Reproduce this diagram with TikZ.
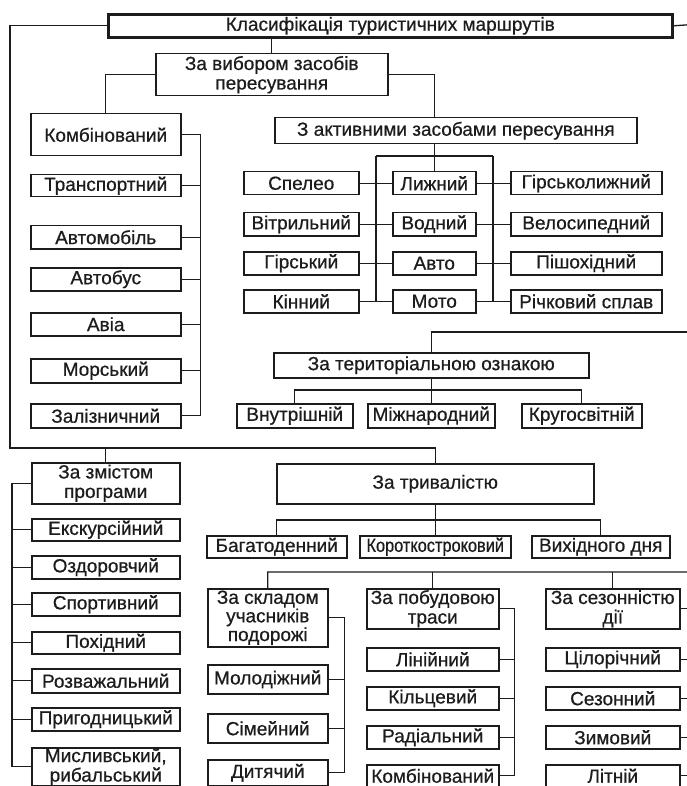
\documentclass[tikz,border=0pt]{standalone}
\usepackage{fontspec}
\setmainfont[FakeBold=0.6]{Liberation Sans}
\usepackage{xcolor}
\usepackage{tikz}
\usetikzlibrary{positioning, calc}
\definecolor{ink}{HTML}{1c1c1c}

\begin{document}
\begin{tikzpicture}[x=1pt, y=-1pt,
    every node/.style={font=\fontsize{19}{19.5}\selectfont, text=ink},
    catbox/.style={
        rectangle, draw=ink, line width=1.5pt,
        fill=white, inner sep=0pt, align=center,
        anchor=north west,
    },
    rootbox/.style={catbox, line width=2.6pt},
    link/.style={draw=ink, line width=1.3pt},
]
\useasboundingbox (0,0) rectangle (686,786);

% ── Root ───────────────────────────────────────────────────────────────
\node[rootbox, minimum width=564pt, minimum height=23pt] (root) at (107,13) {Класифікація туристичних маршрутів};

% ── By means of travel ─────────────────────────────────────────────────
\node[catbox, minimum width=232pt, minimum height=42pt] (means) at (155,53) {За вибором засобів\\пересування};
\node[catbox, minimum width=150pt, minimum height=42pt] (combined) at (30,113) {Комбінований};
\node[catbox, minimum width=150pt, minimum height=22pt] (transport) at (30,174) {Транспортний};
\node[catbox, minimum width=150pt, minimum height=23pt] (car) at (30,225) {Автомобіль};
\node[catbox, minimum width=150pt, minimum height=23pt] (bus) at (30,267) {Автобус};
\node[catbox, minimum width=150pt, minimum height=23pt] (air) at (30,312) {Авіа};
\node[catbox, minimum width=150pt, minimum height=24pt] (sea) at (30,358) {Морський};
\node[catbox, minimum width=150pt, minimum height=24pt] (rail) at (30,403) {Залізничний};

% ── Active means ───────────────────────────────────────────────────────
\node[catbox, minimum width=362pt, minimum height=26pt] (active) at (274,117) {З активними засобами пересування};
\node[catbox, minimum width=115pt, minimum height=23pt] (speleo) at (243,171) {Спелео};
\node[catbox, minimum width=83pt, minimum height=23pt] (ski) at (392,171) {Лижний};
\node[catbox, minimum width=151pt, minimum height=23pt] (alpski) at (510,171) {Гірськолижний};
\node[catbox, minimum width=115pt, minimum height=23pt] (sail) at (243,212) {Вітрильний};
\node[catbox, minimum width=83pt, minimum height=23pt] (water) at (392,212) {Водний};
\node[catbox, minimum width=151pt, minimum height=23pt] (bike) at (510,212) {Велосипедний};
\node[catbox, minimum width=115pt, minimum height=23pt] (mount) at (243,251) {Гірський};
\node[catbox, minimum width=83pt, minimum height=23pt] (auto) at (392,251) {Авто};
\node[catbox, minimum width=151pt, minimum height=23pt] (hike) at (510,251) {Пішохідний};
\node[catbox, minimum width=115pt, minimum height=23pt] (horse) at (243,289) {Кінний};
\node[catbox, minimum width=83pt, minimum height=23pt] (moto) at (392,289) {Мото};
\node[catbox, minimum width=151pt, minimum height=23pt] (river) at (510,289) {Річковий сплав};

% ── Territory ──────────────────────────────────────────────────────────
\node[catbox, minimum width=315pt, minimum height=25pt] (terr) at (273,352) {За територіальною ознакою};
\node[catbox, minimum width=116pt, minimum height=24pt] (domestic) at (236,403) {Внутрішній};
\node[catbox, minimum width=127pt, minimum height=24pt] (intl) at (367,403) {Міжнародний};
\node[catbox, minimum width=120pt, minimum height=24pt] (world) at (521,403) {Кругосвітній};

% ── Programme content ──────────────────────────────────────────────────
\node[catbox, minimum width=148pt, minimum height=41pt] (content) at (31,462) {За змістом\\програми};
\node[catbox, minimum width=148pt, minimum height=22pt] (excurs) at (31,518) {Екскурсійний};
\node[catbox, minimum width=148pt, minimum height=23pt] (health) at (31,555) {Оздоровчий};
\node[catbox, minimum width=148pt, minimum height=23pt] (sport) at (31,592) {Спортивний};
\node[catbox, minimum width=148pt, minimum height=22pt] (walk) at (31,631) {Похідний};
\node[catbox, minimum width=148pt, minimum height=24pt] (fun) at (31,668) {Розважальний};
\node[catbox, minimum width=148pt, minimum height=23pt] (advent) at (31,707) {Пригодницький};
\node[catbox, minimum width=148pt, minimum height=38pt] (hunt) at (31,747) {Мисливський,\\рибальський};

% ── Duration ───────────────────────────────────────────────────────────
\node[catbox, minimum width=317pt, minimum height=40pt] (duration) at (276,463) {За тривалістю};
\node[catbox, minimum width=140pt, minimum height=22pt] (multi) at (206,535) {Багатоденний};
\node[catbox, minimum width=151pt, minimum height=22pt, font=\fontsize{19}{19.5}\selectfont\addfontfeature{FakeStretch=0.86}] (short) at (359,535) {Короткостроковий};
\node[catbox, minimum width=138pt, minimum height=22pt] (weekend) at (531,535) {Вихідного дня};

% ── Members ────────────────────────────────────────────────────────────
\node[catbox, minimum width=120pt, minimum height=58pt, font=\fontsize{19}{17.5}\selectfont] (members) at (207,588) {За складом\\учасників\\подорожі};
\node[catbox, minimum width=120pt, minimum height=29pt] (youth) at (207,664) {Молодіжний};
\node[catbox, minimum width=120pt, minimum height=29pt] (family) at (207,713) {Сімейний};
\node[catbox, minimum width=120pt, minimum height=26pt] (child) at (207,759) {Дитячий};

% ── Route shape ────────────────────────────────────────────────────────
\node[catbox, minimum width=132pt, minimum height=40pt] (route) at (366,588) {За побудовою\\траси};
\node[catbox, minimum width=132pt, minimum height=23pt] (linear) at (366,647) {Лінійний};
\node[catbox, minimum width=132pt, minimum height=23pt] (ring) at (366,686) {Кільцевий};
\node[catbox, minimum width=132pt, minimum height=23pt] (radial) at (366,725) {Радіальний};
\node[catbox, minimum width=132pt, minimum height=22pt] (combroute) at (366,764) {Комбінований};

% ── Season ─────────────────────────────────────────────────────────────
\node[catbox, minimum width=134pt, minimum height=40pt] (season) at (545,588) {За сезонністю\\дії};
\node[catbox, minimum width=134pt, minimum height=23pt] (allyear) at (545,647) {Цілорічний};
\node[catbox, minimum width=134pt, minimum height=23pt] (seasonal) at (545,686) {Сезонний};
\node[catbox, minimum width=134pt, minimum height=23pt] (winter) at (545,725) {Зимовий};
\node[catbox, minimum width=134pt, minimum height=22pt] (summer) at (545,764) {Літній};

% ── Trunks ─────────────────────────────────────────────────────────────
\coordinate (ltrunk) at (10,448);
\coordinate (rtop) at (700,24);
\coordinate (rbot) at (700,572);
\draw[link] (root.west) -| (ltrunk) -| (duration.north);
\draw[link] (content.north) -- (content.north |- ltrunk);
\draw[link] (root.east) -- (rtop) -- (rbot) -| (members.north);
\draw[link] (route.north) -- (route.north |- rbot);
\draw[link] (season.north) -- (season.north |- rbot);
\draw[link] (terr.north) -- ++(0,-20) coordinate (tjoin) -- (tjoin -| rtop);
\draw[link] (means.north) -- (means.north |- root.south);

% ── Links: means of travel ─────────────────────────────────────────────
\draw[link] (means.west) -| (combined.north);
\draw[link] (means.east) -| (active.north -| ski.north);
\draw[link] (combined.east) -- ++(19,0) coordinate (tbus) -- (tbus |- rail.east) -- (rail.east);
\draw[link] (transport.east) -- (transport.east -| tbus);
\draw[link] (car.east) -- (car.east -| tbus);
\draw[link] (bus.east) -- (bus.east -| tbus);
\draw[link] (air.east) -- (air.east -| tbus);
\draw[link] (sea.east) -- (sea.east -| tbus);

% ── Links: active means ────────────────────────────────────────────────
\draw[link] (active.south -| ski.north) -- (ski.north);
\coordinate (abarL) at (376,156);
\coordinate (abarR) at (493,156);
\draw[link] (abarL) -- (abarR);
\draw[link] (abarL) -- (abarL |- horse.east);
\draw[link] (abarR) -- (abarR |- river.west);
\draw[link] (speleo.east) -- (ski.west);
\draw[link] (ski.east) -- (alpski.west);
\draw[link] (sail.east) -- (water.west);
\draw[link] (water.east) -- (bike.west);
\draw[link] (mount.east) -- (auto.west);
\draw[link] (auto.east) -- (hike.west);
\draw[link] (horse.east) -- (moto.west);
\draw[link] (moto.east) -- (river.west);

% ── Links: territory ───────────────────────────────────────────────────
\draw[link] (terr.south) -- (intl.north);
\draw[link] (domestic.north) -- ++(0,-13) -| (world.north);

% ── Links: content ─────────────────────────────────────────────────────
\draw[link] (content.west) -- ++(-19,0) coordinate (cbus) -- (cbus |- hunt.west) -- (hunt.west);
\draw[link] (excurs.west) -- (excurs.west -| cbus);
\draw[link] (health.west) -- (health.west -| cbus);
\draw[link] (sport.west) -- (sport.west -| cbus);
\draw[link] (walk.west) -- (walk.west -| cbus);
\draw[link] (fun.west) -- (fun.west -| cbus);
\draw[link] (advent.west) -- (advent.west -| cbus);

% ── Links: duration ────────────────────────────────────────────────────
\draw[link] (duration.south) -- (short.north);
\draw[link] (multi.north) -- ++(0,-15) -| (weekend.north);

% ── Links: members, route, season ──────────────────────────────────────
\draw[link] (members.east) -- ++(16,0) coordinate (mbus) -- (mbus |- child.east) -- (child.east);
\draw[link] (youth.east) -- (youth.east -| mbus);
\draw[link] (family.east) -- (family.east -| mbus);
\draw[link] (route.east) -- ++(15,0) coordinate (pbus) -- (pbus |- combroute.east) -- (combroute.east);
\draw[link] (linear.east) -- (linear.east -| pbus);
\draw[link] (ring.east) -- (ring.east -| pbus);
\draw[link] (radial.east) -- (radial.east -| pbus);
\draw[link] (season.east) -- ++(13,0) coordinate (sbus) -- (sbus |- summer.east) -- (summer.east);
\draw[link] (allyear.east) -- (allyear.east -| sbus);
\draw[link] (seasonal.east) -- (seasonal.east -| sbus);
\draw[link] (winter.east) -- (winter.east -| sbus);

\end{tikzpicture}
\end{document}
